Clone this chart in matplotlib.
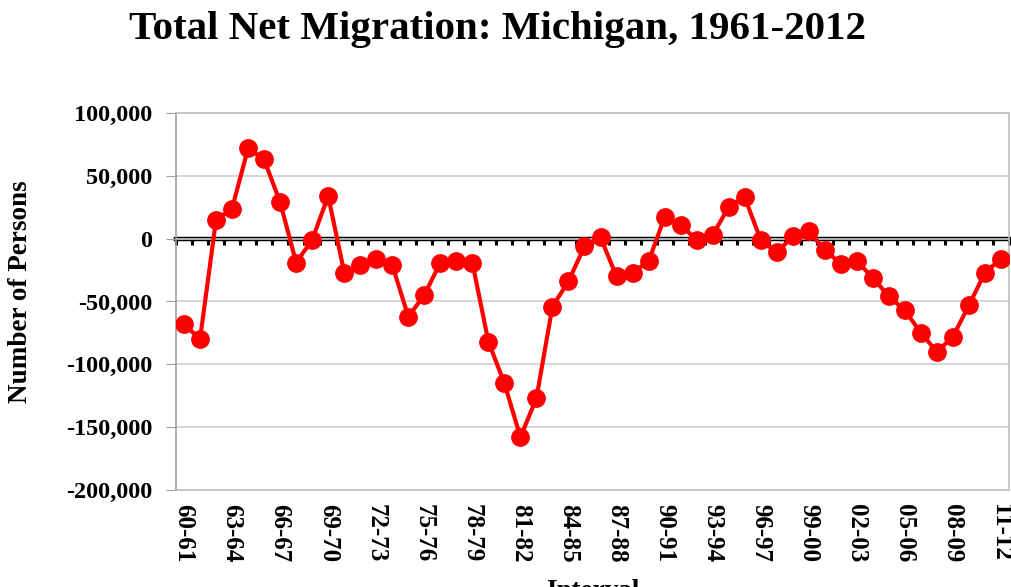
import matplotlib.pyplot as plt
import numpy as np

plt.rcParams['font.family'] = ['Liberation Serif', 'DejaVu Serif']
plt.rcParams['font.weight'] = 'bold'

# intervals 60-61 ... 11-12
years = list(range(1960, 2012))
intervals = ['%02d-%02d' % (y % 100, (y + 1) % 100) for y in years]

net_migration = [
    -68000, -80000, 15000, 24000, 72000, 63000, 29000, -19000, -1000, 34000,
    -27000, -21000, -16000, -21000, -62000, -45000, -19000, -18000, -19000, -82000,
    -115000, -158000, -127000, -54000, -34000, -6000, 1000, -30000, -27000, -18000,
    17000, 11000, -1000, 3000, 25000, 33000, -1000, -11000, 2000, 6000,
    -9000, -20000, -18000, -31000, -46000, -57000, -75000, -90000, -78000, -53000,
    -27000, -16000,
]

yticks = [100000, 50000, 0, -50000, -100000, -150000, -200000]

fig = plt.figure(figsize=(10.12, 5.87), dpi=100)
ax = fig.add_axes([176 / 1012, 1 - 490 / 587, 833 / 1012, 377 / 587])

x = np.arange(len(intervals))
ax.plot(x, net_migration, color='#ff0000', lw=3, marker='o', ms=12.5,
        markerfacecolor='#ff0000', markeredgecolor='#ff0000', zorder=5)

ax.set_xlim(-0.5, len(intervals) - 0.5)
ax.set_ylim(-200000, 100000)
ax.set_yticks(yticks)
ax.set_yticklabels(['{:,}'.format(v) for v in yticks], fontsize=17.5, fontweight='bold')
ax.yaxis.grid(True, color='#d0d0d0', lw=1.2)
ax.set_axisbelow(True)

ax.set_xticks(x[::3])
ax.set_xticklabels(intervals[::3], rotation=270, fontsize=18, fontweight='bold')
ax.tick_params(axis='x', length=0, pad=10)
ax.tick_params(axis='y', length=7, color='#a0a0a0', pad=10)

for s in ax.spines.values():
    s.set_color('#c0c0c0')
    s.set_linewidth(1.2)
ax.spines['left'].set_color('#a0a0a0')

# zero axis with category tick marks
ax2 = ax.twiny()
ax2.set_xlim(ax.get_xlim())
for s in ['top', 'left', 'right']:
    ax2.spines[s].set_visible(False)
ax2.spines['bottom'].set_position(('data', 0))
ax2.spines['bottom'].set_linewidth(3.2)
ax2.spines['bottom'].set_color('black')
ax2.xaxis.set_ticks_position('bottom')
ax2.set_xticks(np.arange(-0.5, len(intervals), 1.0))
ax2.tick_params(axis='x', length=4.5, width=2.2, direction='out', labelbottom=False,
                labeltop=False, color='black')
ax2.set_zorder(ax.get_zorder() - 1)
ax.patch.set_visible(False)

ax.set_ylabel('Number of Persons', fontsize=19.5, fontweight='bold')
ax.yaxis.set_label_coords(-0.172, 0.525)
ax.set_xlabel('Interval', fontsize=19.5, fontweight='bold', labelpad=12)

fig.text(0.492, 0.95, 'Total Net Migration: Michigan, 1961-2012', ha='center',
         va='center', fontsize=29.5, fontweight='bold')

fig.savefig('out.png', dpi=100)
